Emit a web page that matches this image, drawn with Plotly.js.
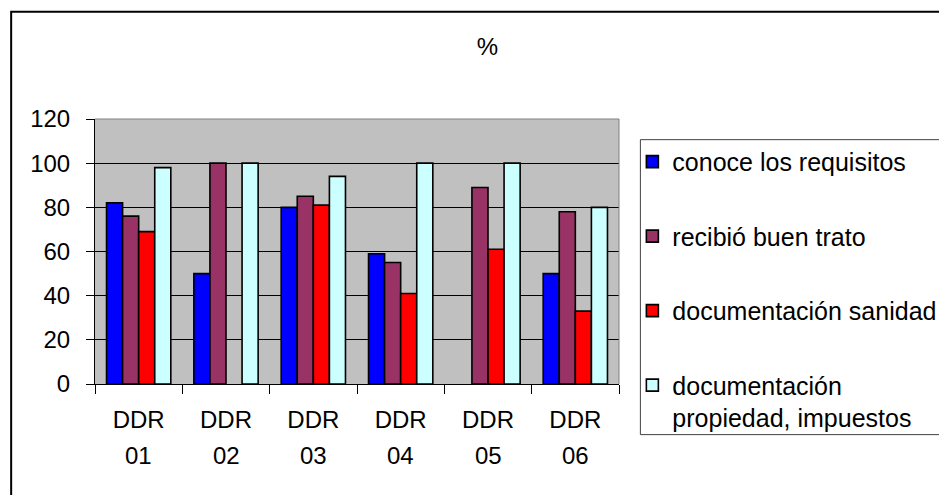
<!DOCTYPE html>
<html>
<head>
<meta charset="utf-8">
<script src="https://cdn.plot.ly/plotly-3.0.1.min.js"></script>
<style>html,body{margin:0;padding:0;background:#fff;}#chart{width:939px;height:495px;}</style>
</head>
<body>
<div id="chart"></div>
<script>
const categories = ["DDR 01", "DDR 02", "DDR 03", "DDR 04", "DDR 05", "DDR 06"];
const seriesNames = ["conoce los requisitos", "recibió buen trato", "documentación sanidad", "documentación<br>propiedad, impuestos"];
const conoceRequisitos = [82, 50, 80, 59, null, 50];
const buenTrato = [76, 100, 85, 55, 89, 78];
const docSanidad = [69, null, 81, 41, 61, 33];
const docPropiedad = [98, 100, 94, 100, 100, 80];
const colors = ["#0000FF", "#993366", "#FF0000", "#CCFFFF"];
const yTicks = [0, 20, 40, 60, 80, 100, 120];

const FONT = "Liberation Sans, Arial, sans-serif";
const seriesValues = [conoceRequisitos, buenTrato, docSanidad, docPropiedad];

const traces = seriesValues.map((vals, i) => ({
  type: "bar",
  name: seriesNames[i],
  x: categories,
  y: vals,
  legendgroup: "g" + i,
  marker: {color: colors[i], line: {color: "#000", width: 1.6}},
  hoverinfo: "x+y+name"
}));

const topLines = categories.map(c => c.split(" ")[0]);
const bottomLines = categories.map(c => c.split(" ")[1]);

const annotations = categories.map((c, i) => ({
  x: c, xref: "x", y: -0.27, yref: "paper",
  text: bottomLines[i], showarrow: false, yanchor: "middle",
  font: {family: FONT, size: 24, color: "#000"}
}));

const layout = {
  width: 939, height: 495,
  margin: {l: 95, r: 320, t: 119, b: 111, autoexpand: false},
  paper_bgcolor: "#fff",
  plot_bgcolor: "#C0C0C0",
  font: {family: FONT, size: 24, color: "#000"},
  title: {text: "%", x: 0.519, xref: "container", xanchor: "center", y: 0.905, yref: "container", yanchor: "middle",
          font: {family: FONT, size: 24, color: "#000"}},
  barmode: "group",
  bargap: 0.264,
  bargroupgap: 0,
  xaxis: {
    type: "category",
    tickvals: categories, ticktext: topLines,
    tickson: "boundaries",
    ticks: "outside", ticklen: 9, tickcolor: "#000", tickwidth: 1,
    showline: true, linecolor: "#000", linewidth: 1,
    showgrid: false, zeroline: false,
    ticklabelstandoff: 14,
    tickfont: {family: FONT, size: 24, color: "#000"}
  },
  yaxis: {
    range: [0, 120], tickvals: yTicks,
    ticks: "outside", ticklen: 8, tickcolor: "#000", tickwidth: 1,
    showline: true, linecolor: "#000", linewidth: 1,
    showgrid: true, gridcolor: "#000", gridwidth: 1,
    zeroline: false,
    ticklabelstandoff: 11,
    tickfont: {family: FONT, size: 24, color: "#000"}
  },
  showlegend: true,
  legend: {
    x: 1.0255, xanchor: "left", y: 0.925, yanchor: "top",
    bgcolor: "rgba(0,0,0,0)", borderwidth: 0,
    tracegroupgap: 39,
    traceorder: "grouped",
    valign: "top",
    maxheight: 420,
    font: {family: FONT, size: 25, color: "#000"}
  },
  annotations: annotations,
  shapes: [
    {type: "line", xref: "paper", yref: "paper", x0: 0, x1: 1, y0: 1, y1: 1, line: {color: "#808080", width: 1}, layer: "above"},
    {type: "line", xref: "paper", yref: "paper", x0: 1, x1: 1, y0: 0, y1: 1, line: {color: "#808080", width: 1}, layer: "above"},
    {type: "rect", xref: "paper", yref: "paper", x0: 1.0408, x1: 1.7, y0: -0.191, y1: 0.922, line: {color: "#404040", width: 1}, fillcolor: "rgba(0,0,0,0)"},
    {type: "rect", xref: "paper", yref: "paper", x0: -0.160, x1: 1.75, y0: -0.5, y1: 1.405, line: {color: "#000", width: 2}, fillcolor: "rgba(0,0,0,0)"}
  ]
};

Plotly.newPlot("chart", traces, layout, {displayModeBar: false, staticPlot: true});
</script>
</body>
</html>
